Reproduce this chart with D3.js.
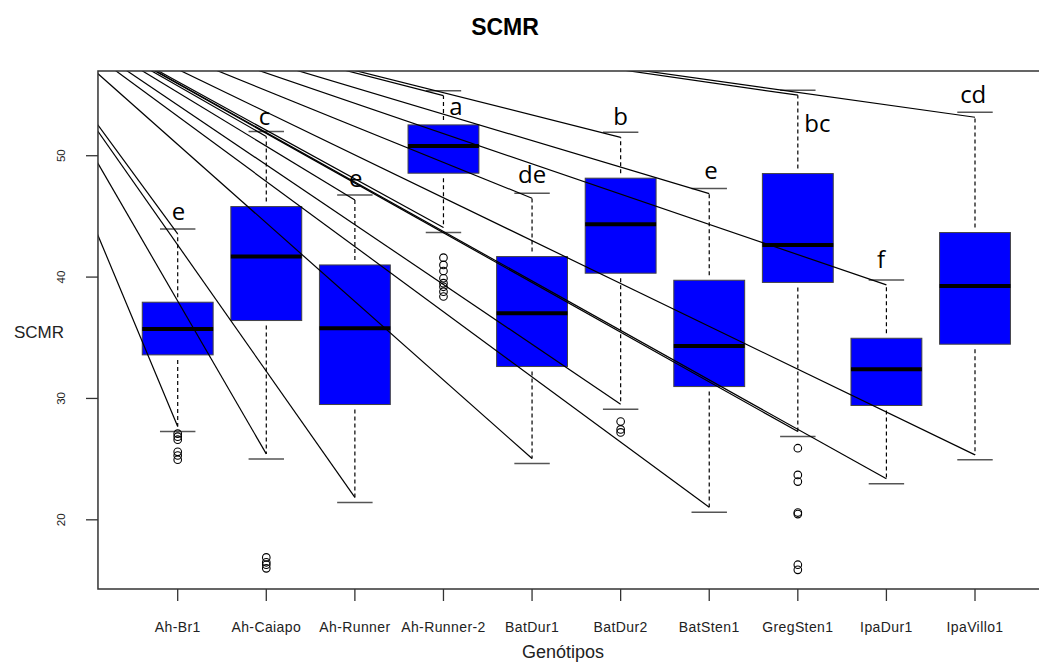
<!DOCTYPE html>
<html><head><meta charset="utf-8">
<script src="https://cdn.jsdelivr.net/npm/d3@7"></script>
<style>body{margin:0;background:#fff}svg{display:block}</style>
</head><body><svg id="c" width="1039" height="662"></svg>
<script>
const categories = ["Ah-Br1","Ah-Caiapo","Ah-Runner","Ah-Runner-2","BatDur1","BatDur2","BatSten1","GregSten1","IpaDur1","IpaVillo1"];
const whiskerHigh = [43.97,51.99,46.77,55.36,46.91,51.93,47.29,55.40,39.77,53.58];
const q3 = [37.93,45.81,41.00,52.54,41.69,48.15,39.74,48.53,34.96,43.67];
const medians = [35.73,41.69,35.79,50.81,37.02,44.36,34.33,42.65,32.41,39.27];
const q1 = [33.59,36.42,29.50,48.56,32.63,40.32,30.98,39.56,29.42,34.47];
const whiskerLow = [27.27,25.02,21.43,43.67,24.64,29.12,20.63,26.86,22.97,24.94];
const outliers = [
  [27.1,26.85,26.6,25.6,25.3,24.95],
  [16.9,16.5,16.3,16.0],
  [],
  [41.6,41.0,40.5,39.9,39.5,39.2,38.8,38.4],
  [],
  [28.1,27.45,27.2],
  [],
  [25.9,23.7,23.15,20.6,20.47,16.3,15.88],
  [],
  []
];
const groupLetters = ["e","c","e","a","de","b","e","bc","f","cd"];
const letterX = [1.01,1.98,3.01,4.14,5.0,6.0,7.02,8.22,8.94,9.98];
const letterY = [44.71,52.54,47.43,53.36,47.76,52.54,48.09,51.97,40.76,54.35];
const yTicks = [20,30,40,50];
const guideOrigin = [-1.107, 64.56];

const svg = d3.select("#c");
const idx = categories.map((d,i)=>i+1);

// R-style domain with 4% extension
const allVals = whiskerHigh.concat(whiskerLow, outliers.flat());
const lo = d3.min(allVals), hi = d3.max(allVals), ext = (hi-lo)*0.04;
const y = d3.scaleLinear().domain([lo-ext, hi+ext]).range([589, 71]);
const x = d3.scaleLinear().domain([1,10]).range([177.7, 975]);
const xl = x(0.1), xr = x(10.9), yt = y.range()[1], yb = y.range()[0];
const bw = (x(2)-x(1))*0.8;

svg.append("defs").append("clipPath").attr("id","plotclip")
  .append("rect").attr("x",xl).attr("y",yt).attr("width",xr-xl).attr("height",yb-yt);

const g = svg.append("g");
const gap = 5;

// whiskers (dashed)
idx.forEach((c,i)=>{
  g.append("line").attr("x1",x(c)).attr("x2",x(c))
    .attr("y1",y(q3[i])-gap).attr("y2",y(whiskerHigh[i])+gap)
    .attr("stroke","#000").attr("stroke-width",1.2).attr("stroke-dasharray","4,3");
  g.append("line").attr("x1",x(c)).attr("x2",x(c))
    .attr("y1",y(q1[i])+gap).attr("y2",y(whiskerLow[i])-gap)
    .attr("stroke","#000").attr("stroke-width",1.2).attr("stroke-dasharray","4,3");
  [whiskerHigh[i], whiskerLow[i]].forEach(v=>{
    g.append("line").attr("x1",x(c)-bw/4).attr("x2",x(c)+bw/4)
      .attr("y1",y(v)).attr("y2",y(v)).attr("stroke","#555").attr("stroke-width",1.5);
  });
});

// boxes
idx.forEach((c,i)=>{
  g.append("rect").attr("x",x(c)-bw/2).attr("width",bw)
    .attr("y",y(q3[i])).attr("height",y(q1[i])-y(q3[i]))
    .attr("fill","#0000ff").attr("stroke","#444").attr("stroke-width",1);
  g.append("line").attr("x1",x(c)-bw/2).attr("x2",x(c)+bw/2)
    .attr("y1",y(medians[i])).attr("y2",y(medians[i]))
    .attr("stroke","#000").attr("stroke-width",4);
  outliers[i].forEach(v=>{
    g.append("circle").attr("cx",x(c)).attr("cy",y(v)).attr("r",3.8)
      .attr("fill","none").attr("stroke","#000").attr("stroke-width",1.1);
  });
});

// letters
idx.forEach((c,i)=>{
  g.append("text").attr("x",x(letterX[i])).attr("y",y(letterY[i]))
    .attr("text-anchor","middle").attr("font-family","'Open Sans', sans-serif")
    .attr("font-size",24).attr("fill","#000").text(groupLetters[i]);
});

// guide lines from common origin to whisker ends
const gl = svg.append("g").attr("clip-path","url(#plotclip)");
idx.forEach((c,i)=>{
  [[whiskerHigh[i], gap],[whiskerLow[i], -gap]].forEach(([v,o])=>{
    gl.append("line").attr("x1",x(guideOrigin[0])).attr("y1",y(guideOrigin[1]))
      .attr("x2",x(c)).attr("y2",y(v)+o).attr("stroke","#000").attr("stroke-width",1.2);
  });
});

// plot border
svg.append("rect").attr("x",xl).attr("y",yt).attr("width",xr-xl).attr("height",yb-yt)
  .attr("fill","none").attr("stroke","#333").attr("stroke-width",1.5);

// y axis
yTicks.forEach(t=>{
  svg.append("line").attr("x1",xl-12).attr("x2",xl).attr("y1",y(t)).attr("y2",y(t))
    .attr("stroke","#333").attr("stroke-width",1.3);
  svg.append("text").attr("transform",`translate(65,${y(t)}) rotate(-90)`)
    .attr("text-anchor","middle").attr("font-family","Arial, 'Liberation Sans', sans-serif")
    .attr("font-size",11.5).attr("fill","#222").text(t);
});
// x axis
idx.forEach((c,i)=>{
  svg.append("line").attr("x1",x(c)).attr("x2",x(c)).attr("y1",yb).attr("y2",yb+12)
    .attr("stroke","#333").attr("stroke-width",1.3);
  svg.append("text").attr("x",x(c)).attr("y",631.5).attr("text-anchor","middle")
    .attr("font-family","Arial, 'Liberation Sans', sans-serif").attr("font-size",14)
    .attr("letter-spacing","0.4px").attr("fill","#222").text(categories[i]);
});

// titles
svg.append("text").attr("x",505).attr("y",35).attr("text-anchor","middle")
  .attr("font-family","Arial, 'Liberation Sans', sans-serif").attr("font-weight","bold")
  .attr("font-size",23).attr("fill","#000").text("SCMR");
svg.append("text").attr("x",39).attr("y",338).attr("text-anchor","middle")
  .attr("font-family","Arial, 'Liberation Sans', sans-serif")
  .attr("font-size",17).attr("fill","#222").text("SCMR");
svg.append("text").attr("x",563).attr("y",658).attr("text-anchor","middle")
  .attr("font-family","Arial, 'Liberation Sans', sans-serif")
  .attr("font-size",18).attr("fill","#222").text("Genótipos");
</script></body></html>
